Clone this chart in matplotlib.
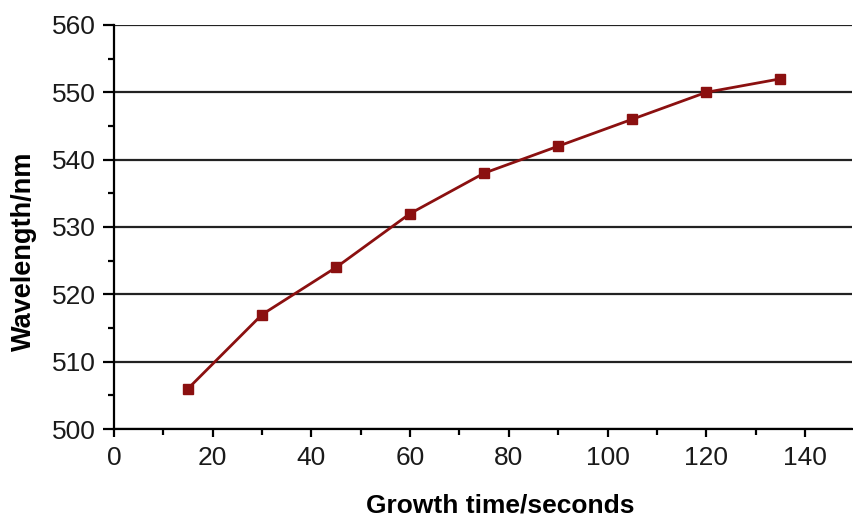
import matplotlib.pyplot as plt
from matplotlib.ticker import MultipleLocator

plt.rcParams['font.family'] = ['Liberation Sans', 'DejaVu Sans']

# growth time (s) vs emission wavelength (nm)
growth_time = [15, 30, 45, 60, 75, 90, 105, 120, 135]
wavelength = [506, 517, 524, 532, 538, 542, 546, 550, 552]

fig = plt.figure(figsize=(8.54, 5.16), dpi=100)
ax = fig.add_axes([0.1335, 0.1686, 0.864, 0.783])

ax.plot(growth_time, wavelength, color='#8b1010', linewidth=2,
        marker='s', markersize=6.5, zorder=3)

ax.set_xlim(0, 149.5)
ax.set_ylim(500, 560)
ax.xaxis.set_major_locator(MultipleLocator(20))
ax.xaxis.set_minor_locator(MultipleLocator(10))
ax.yaxis.set_major_locator(MultipleLocator(10))
ax.yaxis.set_minor_locator(MultipleLocator(5))

ax.grid(axis='y', which='major', color='#222222', linewidth=1.6)
ax.set_axisbelow(True)

for side in ['top', 'right']:
    ax.spines[side].set_visible(False)
for side in ['left', 'bottom']:
    ax.spines[side].set_linewidth(1.6)

ax.tick_params(which='both', direction='out', width=1.6,
               labelsize=19, labelcolor='#1a1a1a')
ax.tick_params(axis='y', which='major', length=8, pad=5)
ax.tick_params(axis='x', which='major', length=6, pad=6)
ax.tick_params(which='minor', length=4)

ax.set_xlabel('Growth time/seconds', fontsize=19, fontweight='bold')
ax.set_ylabel('Wavelength/nm', fontsize=19.5, fontweight='bold')
ax.xaxis.set_label_coords(0.524, -0.16)
ax.yaxis.set_label_coords(-0.104, 0.44)

fig.savefig('out.png', dpi=100)
